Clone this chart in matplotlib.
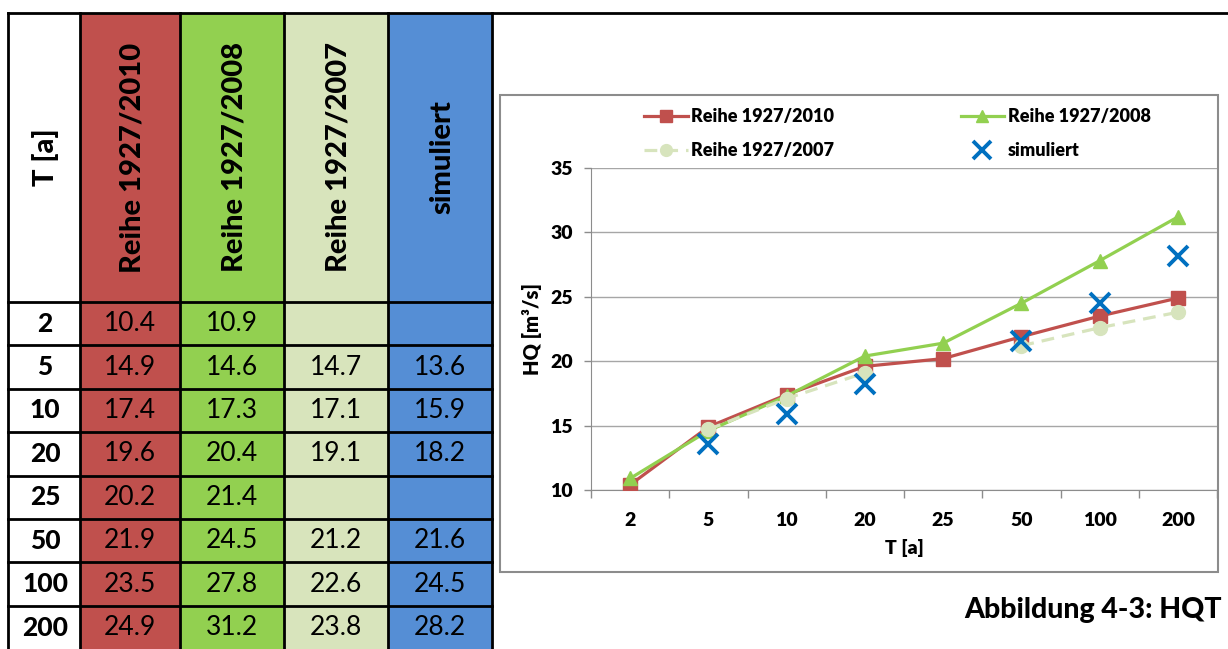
import matplotlib
matplotlib.use("Agg")
import matplotlib.pyplot as plt
import numpy as np
from matplotlib.patches import Rectangle

plt.rcParams['font.family'] = ['Lato', 'DejaVu Sans']

# data
T_labels = ['2', '5', '10', '20', '25', '50', '100', '200']
hq_2010 = [10.4, 14.9, 17.4, 19.6, 20.2, 21.9, 23.5, 24.9]
hq_2008 = [10.9, 14.6, 17.3, 20.4, 21.4, 24.5, 27.8, 31.2]
hq_2007 = [None, 14.7, 17.1, 19.1, None, 21.2, 22.6, 23.8]
hq_sim = [None, 13.6, 15.9, 18.2, None, 21.6, 24.5, 28.2]

col_names = ['Reihe 1927/2010', 'Reihe 1927/2008', 'Reihe 1927/2007', 'simuliert']
col_colors = ['#C0504D', '#92D050', '#D8E4BC', '#558ED5']
line_colors = ['#C0504D', '#92D050', '#D7E4BD', '#0070C0']

W, H = 1228, 649
fig = plt.figure(figsize=(W / 100, H / 100), dpi=100)

# ---------- table (pixel coordinates) ----------
tab = fig.add_axes([0, 0, 1, 1])
tab.set_xlim(0, W)
tab.set_ylim(H, 0)
tab.axis('off')

col_x = [8, 80, 180, 284, 388, 492]
top, head_bot = 13, 302
row_h = 43.4
n_rows = len(T_labels)

series = [hq_2010, hq_2008, hq_2007, hq_sim]
for j, c in enumerate(col_colors):
    tab.add_patch(Rectangle((col_x[j + 1], top), col_x[j + 2] - col_x[j + 1], H - top,
                            facecolor=c, edgecolor='none'))

# header
tab.text((col_x[0] + col_x[1]) / 2 + 2, (top + head_bot) / 2, 'T [a]', rotation=90,
         ha='center', va='center', fontsize=21, fontweight='black')
for j, name in enumerate(col_names):
    tab.text((col_x[j + 1] + col_x[j + 2]) / 2 + 2, (top + head_bot) / 2, name, rotation=90,
             ha='center', va='center', fontsize=21, fontweight='black')

# body
for i, t in enumerate(T_labels):
    yc = head_bot + (i + 0.5) * row_h
    tab.text((col_x[0] + col_x[1]) / 2 + 1, yc, t, ha='center', va='center',
             fontsize=19, fontweight='black')
    for j, s in enumerate(series):
        if s[i] is not None:
            tab.text((col_x[j + 1] + col_x[j + 2]) / 2, yc, f'{s[i]:.1f}',
                     ha='center', va='center', fontsize=19)

# grid lines of the table
lw = 2
tab.plot([col_x[0], W], [top, top], color='black', lw=lw)
for x in col_x:
    tab.plot([x, x], [top, H], color='black', lw=lw)
for i in range(n_rows):
    y = head_bot + i * row_h
    tab.plot([col_x[0], col_x[-1]], [y, y], color='black', lw=lw)

# chart frame
tab.add_patch(Rectangle((500, 95), 718, 477, facecolor='white', edgecolor='#8C8C8C', lw=1.5))

# caption
tab.text(1222, 610, 'Abbildung 4-3: HQT', ha='right', va='center',
         fontsize=20.5, fontweight='black')

# ---------- chart ----------
x0, x1, y0, y1 = 591, 1217, 168, 490
ax = fig.add_axes([x0 / W, 1 - y1 / H, (x1 - x0) / W, (y1 - y0) / H])
xs = np.arange(len(T_labels))


def arr(v):
    return np.array([np.nan if a is None else a for a in v], dtype=float)


ax.plot(xs, arr(hq_2010), color=line_colors[0], lw=2.3, marker='s', ms=10,
        label='Reihe 1927/2010', zorder=3)
ax.plot(xs, arr(hq_2008), color=line_colors[1], lw=2.3, marker='^', ms=10,
        label='Reihe 1927/2008', zorder=3)
ax.plot(xs, arr(hq_2007), color=line_colors[2], lw=2.3, ls=(0, (4, 2.5)), marker='o', ms=10,
        label='Reihe 1927/2007', zorder=4)
ax.plot(xs, arr(hq_sim), color=line_colors[3], lw=0, marker='x', ms=15, mew=2.8,
        label='simuliert', zorder=5)

ax.set_xlim(-0.5, len(T_labels) - 0.5)
ax.set_ylim(10, 35)
ax.set_yticks([10, 15, 20, 25, 30, 35])
ax.set_xticks(xs)
ax.set_xticklabels(T_labels)
ax.set_xticks(np.arange(len(T_labels) + 1) - 0.5, minor=True)
ax.tick_params(axis='x', which='major', length=0, pad=16, labelsize=14)
ax.tick_params(axis='x', which='minor', length=6, color='#8C8C8C', width=1)
ax.tick_params(axis='y', length=5, color='#8C8C8C', width=1, pad=8, labelsize=14)
for lab in ax.get_xticklabels() + ax.get_yticklabels():
    lab.set_fontweight('heavy')

ax.grid(axis='y', color='#A6A6A6', lw=1)
ax.set_axisbelow(True)
for sp in ['top', 'right']:
    ax.spines[sp].set_visible(False)
ax.spines['left'].set_color('#8C8C8C')
ax.spines['bottom'].set_color('#8C8C8C')
ax.patch.set_alpha(0)

ax.set_xlabel('T [a]', fontsize=14, fontweight='heavy', labelpad=7)
ax.set_ylabel('HQ [m³/s]', fontsize=14.5, fontweight='heavy', labelpad=6)

h = ax.get_legend_handles_labels()[0]
order = [0, 2, 1, 3]
leg = fig.legend([h[k] for k in order], [col_names[k] for k in order], ncol=2,
                 loc='upper left', bbox_to_anchor=(628 / W, 1 - 92 / H),
                 frameon=False, fontsize=13, handlelength=2.4, columnspacing=7.0,
                 handletextpad=0.2, labelspacing=0.95, markerscale=0.85)
for t in leg.get_texts():
    t.set_fontweight('heavy')

fig.savefig('out.png', dpi=100)
